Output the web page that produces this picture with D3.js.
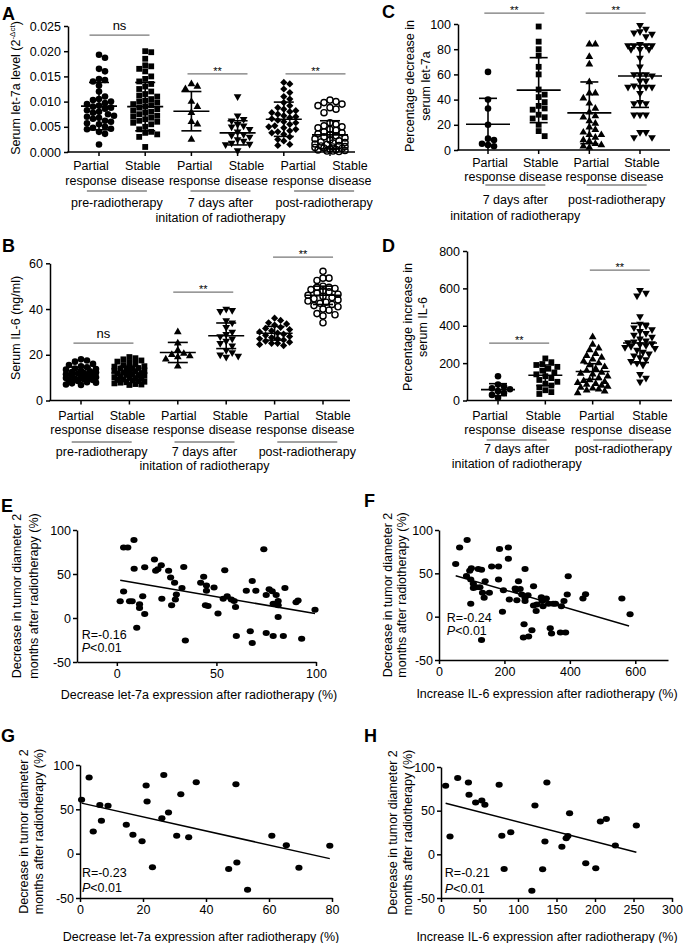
<!DOCTYPE html>
<html><head><meta charset="utf-8">
<script src="https://cdn.jsdelivr.net/npm/d3@7"></script>
<style>body{margin:0;background:#fff}svg{display:block}</style>
</head><body><svg id="chart"></svg>
<script>
// ---------------- DATA ----------------
const labTop6 = ["Partial","Stable","Partial","Stable","Partial","Stable"];
const labBot6 = ["response","disease","response","disease","response","disease"];
const labTop4 = ["Partial","Stable","Partial","Stable"];
const labBot4 = ["response","disease","response","disease"];
const groups6 = [{pair:[0,1],lines:["pre-radiotherapy"]},{pair:[2,3],lines:["7 days after","initation of radiotherapy"]},{pair:[4,5],lines:["post-radiotherapy"]}];
const groups4 = [{pair:[0,1],lines:["7 days after","initation of radiotherapy"]},{pair:[2,3],lines:["post-radiotherapy"]}];

// Panel A: serum let-7a level
const aPRpre = [0.0193,0.0187,0.0165,0.0160,0.0145,0.0143,0.0140,0.0132,0.0120,0.0110,0.0105,0.0103,0.0100,0.0097,0.0095,0.0092,0.0090,0.0088,0.0086,0.0083,0.0080,0.0078,0.0075,0.0072,0.0070,0.0068,0.0066,0.0062,0.0060,0.0057,0.0055,0.0050,0.0048,0.0046,0.0045,0.0040,0.0036,0.0015];
const aSDpre = [0.0200,0.0198,0.0185,0.0172,0.0170,0.0165,0.0160,0.0150,0.0145,0.0140,0.0135,0.0130,0.0125,0.0120,0.0115,0.0112,0.0110,0.0105,0.0102,0.0100,0.0098,0.0095,0.0093,0.0090,0.0088,0.0085,0.0082,0.0080,0.0078,0.0075,0.0072,0.0070,0.0068,0.0065,0.0062,0.0060,0.0058,0.0055,0.0050,0.0045,0.0040,0.0038,0.0035,0.0030,0.0010];
const aPR7 = [0.0135,0.0130,0.0125,0.0100,0.0090,0.0078,0.0060,0.0055,0.0025];
const aSD7 = [0.0110,0.0072,0.0065,0.0062,0.0055,0.0052,0.0050,0.0045,0.0040,0.0035,0.0033,0.0030,0.0025,0.0022,0.0018,0.0016,0.0015,0.0003];
const aPRpost = [0.0138,0.0135,0.0125,0.0118,0.0110,0.0105,0.0098,0.0092,0.0088,0.0085,0.0082,0.0080,0.0078,0.0075,0.0072,0.0070,0.0068,0.0066,0.0063,0.0060,0.0058,0.0055,0.0052,0.0050,0.0048,0.0045,0.0042,0.0040,0.0038,0.0035,0.0030,0.0025,0.0022,0.0015,0.0013];
const aSDpost = [0.0103,0.0100,0.0098,0.0095,0.0092,0.0088,0.0085,0.0078,0.0058,0.0055,0.0052,0.0050,0.0048,0.0045,0.0043,0.0040,0.0038,0.0036,0.0034,0.0032,0.0030,0.0028,0.0026,0.0024,0.0022,0.0020,0.0019,0.0018,0.0016,0.0015,0.0013,0.0012,0.0011,0.0010,0.0009,0.0008,0.0007,0.0006,0.0005,0.0004,0.0003,0.0002,0.0002,0.0001];
const aMean = [0.0091,0.0090,0.0081,0.0038,0.0065,0.0034];
const aSD = [0.0047,0.0048,0.0039,0.0024,0.0034,0.0028];
const aTicks = [0,0.005,0.010,0.015,0.020,0.025];
const aBrackets = [{pair:[0,1],v:0.0232,t:"ns"},{pair:[2,3],v:0.0155,t:"**"},{pair:[4,5],v:0.0155,t:"**"}];

// Panel B: serum IL-6
const bPRpre = [18,17.5,17,16,15.5,15,14.5,14,13.8,13.5,13,12.8,12.5,12.2,12,11.8,11.5,11.2,11,10.8,10.5,10.2,10,9.8,9.5,9.2,9,8.8,8.5,8,7.8,7.5,7,6.8];
const bSDpre = [19,18.5,18,17.5,17,16.5,16,15.5,15,14.8,14.5,14.2,14,13.8,13.5,13.2,13,12.8,12.5,12.2,12,11.8,11.5,11.2,11,10.8,10.5,10.2,10,9.8,9.5,9.2,9,8.8,8.5,8.2,8,7.8,7.5,7.2,7,6.8];
const bPR7 = [30,25,22,20.5,20,19.5,19,18,15];
const bSD7 = [40,39.5,39,35,34,32,30,29,28,27,26,25,24,22,21,20,19.5,19];
const bPRpost = [36,35,34,33.5,33,32,31.5,31,30.5,30,29.5,29,28.5,28,27.5,27,27,26.5,26,25.5,25,25,24.5,24];
const bSDpost = [56.5,53.5,53.5,52.5,50,49.5,49.5,49,48.5,48,47.5,47,46.5,46,45.5,45,44.5,44,43.5,43,42.5,42,41.5,41,40,39.5,38,37.5,37,34];
const bMean = [11.8,12,21,28.3,29.4,46];
const bSD = [2.8,3,4.4,5.6,3,4];
const bTicks = [0,20,40,60];
const bBrackets = [{pair:[0,1],v:25.1,t:"ns"},{pair:[2,3],v:47.4,t:"**"},{pair:[4,5],v:62.7,t:"**"}];

// Panel C: percentage decrease in serum let-7a
const cPR7 = [62,40,33,20,9,8,5,4,3];
const cSD7 = [98,86,80,75,66,60,48,44,42,38,35,33,32,28,26,25,20,15,11];
const cPRpost = [84,84,74,68,54,45,45,41,37,33,30,27,26,23,21,18,16,14,12,12,10,8,7,5,4,3,2];
const cSDpost = [99,96,94,93,92,90,84,83,83,83,83,80,80,80,73,66,60,60,60,59,55,55,51,50,50,50,50,45,38,37,37,28,28,28,14,10,10,14];
const cMean = [20.4,47.5,29.5,58.7];
const cSD = [20.6,25.8,24.5,24.9];
const cTicks = [0,20,40,60,80,100];
const cBrackets = [{pair:[0,1],v:108.7,t:"**"},{pair:[2,3],v:108.7,t:"**"}];

// Panel D: percentage increase in serum IL-6
const dPR7 = [130,85,75,65,60,50,40,30,15];
const dSD7 = [225,205,195,190,180,170,160,150,140,130,120,110,100,90,80,70,55,45,35];
const dPRpost = [340,300,280,270,250,240,230,220,210,200,190,180,170,160,150,145,140,130,120,110,105,100,95,90,85,80,75,70,65,60,55,50,40];
const dSDpost = [590,575,560,450,410,400,390,380,370,360,350,340,330,320,315,310,305,300,295,290,285,280,270,260,250,240,230,220,210,200,190,140,120,100];
const dMean = [58,135,155,308];
const dSD = [32,55,42,105];
const dTicks = [0,200,400,600,800];
const dBrackets = [{pair:[0,1],v:307,t:"**"},{pair:[2,3],v:698,t:"**"}];

// Scatter panels: [x, y] = [expression change (%), decrease in tumor diameter (%)]
const ePts = [[1.7,19],[3.4,30],[3.4,80],[5.5,80],[6.4,19],[7.7,19],[8.6,88.6],[8.7,56],[10,-11],[11.4,15.6],[11.4,11.4],[13,24.7],[14,57.8],[14,4.6],[18.9,66.5],[19.5,53.6],[20.6,55.5],[22.3,60],[22.6,22],[26,53.6],[27,46],[27.5,14.4],[29,40],[29.4,21],[29.9,26.6],[32.7,34],[33.6,58],[34.4,-25.5],[42.1,40],[43.6,46.8],[44.5,14.4],[45,37],[45,31],[45.8,13.7],[48.8,34.6],[50.8,5],[53.4,22],[54.2,54.4],[55.4,24.7],[57.5,21],[58.9,19.4],[59.6,12.5],[60,-20.5],[65,31],[67,-15],[68,42],[68,-28.5],[69.8,31],[73.8,78],[75,26],[75,-17],[76.5,32.7],[78,30.4],[78.5,16.3],[78.5,-20.5],[80,26],[81,19.4],[81,14.4],[81,1],[83.6,-20.5],[84.4,34],[90,18],[91,20],[92.8,-23.6],[99.5,9.5]];
const eFit = [[1.7,43],[99.5,5]];
const fPts = [[51,60.7],[63,79.8],[86,88.5],[84,47],[94,53],[99,56],[97,43],[97,15],[105,38],[105,33],[113,34],[120,55],[125,34],[130,54],[133,27.5],[130,-27],[138,21.8],[141,41],[154,27.5],[161,58],[182,58],[185,78],[182,43],[197,30.5],[194,5.7],[212,79.8],[212,66.8],[215,19.8],[233,32.4],[235,30.5],[238,19],[243,41],[248,32],[253,25.6],[260,-8.8],[258,-24],[263,55],[263,21.8],[263,18],[272,24.8],[274,-23],[284,-15.6],[289,35],[289,13],[297,6.5],[299,14],[313,22.5],[315,18],[318,12],[328,21],[335,15],[340,-13.4],[344,-19.5],[349,15],[356,15],[371,-18.3],[374,12],[382,18],[387,-18.3],[392,25.6],[395,46.6],[440,21],[448,26],[559,21],[584,2.7]];
const fFit = [[51,47.3],[581,-10.7]];
const gPts = [[0.5,60.7],[2.9,85.8],[4.2,25],[6.3,55],[6.8,37],[8.9,54],[14.7,32.6],[16.8,21.3],[19.7,13.9],[21,76.8],[21.3,58.8],[23,-15.4],[26,40],[26.6,88.8],[28.1,46.4],[30.7,20.2],[32,67],[34.5,18.4],[36.9,80.5],[47.2,-17.2],[49.5,78.3],[49.8,-10],[53.2,-40.8],[60.9,20.2],[65.5,9.4],[69.5,-16],[79.3,9]];
const gFit = [[0.5,57],[79.3,-5.6]];
const hPts = [[6,78.5],[11.7,20.3],[21.7,87.3],[35.6,82.3],[36.4,68.2],[45,59.4],[53,61.7],[57,56.7],[75.5,79.7],[79,21.4],[82,-16.9],[90.6,25.3],[118,-41.7],[122,55.9],[132,-17.2],[135,14.6],[137.5,82.3],[157,8.8],[162.6,18.4],[164.8,21],[167,47],[188,-10.3],[201,-16],[207,37.5],[214.7,40.6],[226.4,10],[253.7,33]];
const hFit = [[6,58.6],[253.7,2.3]];
const scatterYTicks = [-50,0,50,100];
const tumorLabel = ["Decrease in tumor diameter 2","months after radiotherapy (%)"];

// ---------------- DRAWING ----------------
const FONT = '"Liberation Sans", Arial, Helvetica, sans-serif';
const FS = 12.5;
const svg = d3.select("#chart").attr("width",685).attr("height",943);
svg.append("rect").attr("width",685).attr("height",943).attr("fill","#fff");

function txt(g,x,y,s,o={}){
  const t=g.append("text").attr("x",x).attr("y",y).attr("font-family",FONT)
    .attr("font-size",o.size||FS).attr("text-anchor",o.anchor||"middle").attr("fill","#000");
  if(o.weight) t.attr("font-weight",o.weight);
  if(s!==null) t.text(s);
  return t;
}
function styleAxis(sel){
  sel.attr("font-family",FONT).attr("font-size",FS);
  sel.select(".domain").attr("stroke","#000").attr("stroke-width",1.5);
  sel.selectAll(".tick line").attr("stroke","#000").attr("stroke-width",1.5);
  sel.selectAll(".tick text").attr("fill","#000");
}
function rotLabel(g,lines,xs,cy){
  lines.forEach((s,i)=>{
    g.append("text").attr("transform",`translate(${xs[i]},${cy}) rotate(-90)`)
      .attr("text-anchor","middle").attr("font-family",FONT).attr("font-size",FS).attr("fill","#000").text(s);
  });
}
const SYM = {
  circle:{t:d3.symbolCircle,s:34,r:0,fill:true},
  square:{t:d3.symbolSquare,s:34,r:0,fill:true},
  tri:{t:d3.symbolTriangle,s:26,r:0,fill:true},
  triDown:{t:d3.symbolTriangle,s:26,r:180,fill:true},
  diamond:{t:d3.symbolSquare,s:26,r:45,fill:true},
  ring:{t:d3.symbolCircle,s:30,r:0,fill:false}
};
function swarm(vals,cx,y,d,maxHalf){
  const placed=[]; const step=d/2;
  const nSteps=Math.floor(maxHalf/step);
  return vals.slice().sort((a,b)=>b-a).map(v=>{
    const py=y(v); let best=cx, bestScore=-1;
    for(let i=0;i<=2*nSteps;i++){
      const k=Math.ceil(i/2), sgn=i%2?1:-1;
      const px=cx+(i===0?0:sgn*k*step);
      let minD=Infinity;
      for(const p of placed){const dd=Math.hypot(p[0]-px,p[1]-py); if(dd<minD)minD=dd;}
      if(minD>=d){best=px;break;}
      if(minD>bestScore){bestScore=minD;best=px;}
    }
    placed.push([best,py]); return [best,py];
  });
}

function dotPanel(o){
  const g=svg.append("g");
  const keys=d3.range(o.series.length);
  const xD=d3.scalePoint(keys,o.dataRange);
  const xL=d3.scalePoint(keys,o.labRange);
  const y=d3.scaleLinear(o.yDomain,o.yRange);
  const base=o.yRange[0];
  const ax=g.append("g").attr("transform",`translate(${o.axisX},0)`)
    .call(d3.axisLeft(y).tickValues(o.yTicks).tickFormat(o.yFmt).tickSize(4).tickSizeOuter(0).tickPadding(3));
  styleAxis(ax);
  g.append("line").attr("x1",o.axisX-0.75).attr("x2",o.axisEnd).attr("y1",base).attr("y2",base).attr("stroke","#000").attr("stroke-width",1.5);
  g.selectAll(null).data(keys).join("line").attr("x1",k=>xD(k)).attr("x2",k=>xD(k)).attr("y1",base).attr("y2",base+4).attr("stroke","#000").attr("stroke-width",1.5);
  // points
  o.series.forEach((vals,i)=>{
    const S=SYM[o.syms[i]];
    const pts=swarm(vals,xD(i),y,6,17);
    const gen=d3.symbol(S.t,S.s);
    g.selectAll(null).data(pts).join("path").attr("d",gen())
      .attr("transform",p=>`translate(${p[0]},${p[1]}) rotate(${S.r})`)
      .attr("fill",S.fill?"#000":"none").attr("stroke",S.fill?"none":"#000").attr("stroke-width",1.4);
  });
  // mean +/- SD
  keys.forEach(i=>{
    const cx=xD(i), m=o.means[i], s=o.sds[i];
    const lo=Math.max(o.yDomain[0],m-s), hi=m+s;
    const L=(x1,y1,x2,y2)=>g.append("line").attr("x1",x1).attr("y1",y1).attr("x2",x2).attr("y2",y2).attr("stroke","#000").attr("stroke-width",1.6);
    L(cx-o.meanHW,y(m),cx+o.meanHW,y(m));
    L(cx,y(lo),cx,y(hi));
    L(cx-o.capHW,y(hi),cx+o.capHW,y(hi));
    if(m-s>o.yDomain[0]) L(cx-o.capHW,y(lo),cx+o.capHW,y(lo));
  });
  // category labels
  keys.forEach(i=>{
    txt(g,xL(i),o.labY[0],o.labTop[i]);
    txt(g,xL(i),o.labY[1],o.labBot[i]);
  });
  // groups
  o.groups.forEach(gr=>{
    const mid=(xL(gr.pair[0])+xL(gr.pair[1]))/2;
    g.append("line").attr("x1",mid-30).attr("x2",mid+30).attr("y1",o.groupLineY).attr("y2",o.groupLineY).attr("stroke","#444").attr("stroke-width",1);
    gr.lines.forEach((s,j)=>txt(g,mid,o.groupY[j],s));
  });
  // brackets
  o.brackets.forEach(b=>{
    const mid=((xL(b.pair[0])+xL(b.pair[1]))/2+(xD(b.pair[0])+xD(b.pair[1]))/2)/2;
    const yy=y(b.v);
    g.append("line").attr("x1",mid-30).attr("x2",mid+30).attr("y1",yy).attr("y2",yy).attr("stroke","#777").attr("stroke-width",1.2);
    if(b.t==="ns") txt(g,mid,yy-5,"ns",{size:13});
    else txt(g,mid,yy+1,"**",{size:11});
  });
  // y label
  if(o.yLabelFn) o.yLabelFn(g); else rotLabel(g,o.yLabel,o.yLabelX,o.yLabelCY);
  txt(g,o.letter[1],o.letter[2],o.letter[0],{size:18,weight:"bold",anchor:"start"});
}

function scatterPanel(o){
  const g=svg.append("g");
  const x=d3.scaleLinear(o.xDomain,o.xRange);
  const y=d3.scaleLinear(o.yDomain,o.yRange);
  const ay=g.append("g").attr("transform",`translate(${o.xRange[0]},0)`)
    .call(d3.axisLeft(y).tickValues(scatterYTicks).tickFormat(d=>String(d)).tickSize(4).tickSizeOuter(0).tickPadding(2));
  styleAxis(ay);
  const axx=g.append("g").attr("transform",`translate(0,${o.yRange[0]})`)
    .call(d3.axisBottom(x).tickValues(o.xTicks).tickFormat(d=>String(d)).tickSize(4).tickSizeOuter(0).tickPadding(3));
  styleAxis(axx);
  g.selectAll(null).data(o.pts).join("ellipse").attr("cx",d=>x(d[0])).attr("cy",d=>y(d[1]))
    .attr("rx",3.6).attr("ry",3.0).attr("fill","#000");
  g.append("path").datum(o.fit).attr("d",d3.line(d=>x(d[0]),d=>y(d[1]))).attr("stroke","#000").attr("stroke-width",1.5).attr("fill","none");
  txt(g,x(o.rPos[0]),y(o.rPos[1]),o.rText,{anchor:"start"});
  const p=txt(g,x(o.rPos[0]),y(o.pY),null,{anchor:"start"});
  p.append("tspan").attr("font-style","italic").text("P");
  p.append("tspan").text("<0.01");
  txt(g,o.titleX,o.titleY,o.title);
  rotLabel(g,tumorLabel,o.yLabelX,(o.yRange[0]+o.yRange[1])/2);
  txt(g,o.letter[1],o.letter[2],o.letter[0],{size:18,weight:"bold",anchor:"start"});
}

// Panel A
dotPanel({
  series:[aPRpre,aSDpre,aPR7,aSD7,aPRpost,aSDpost],means:aMean,sds:aSD,
  syms:["circle","square","tri","triDown","diamond","ring"],
  yDomain:[0,0.025],yRange:[152,26],yTicks:aTicks,yFmt:d3.format(".3f"),
  axisX:68,axisEnd:355,dataRange:[99,330],labRange:[91,350],
  labTop:labTop6,labBot:labBot6,labY:[170,185],groupLineY:191,groupY:[207,222],groups:groups6,
  brackets:aBrackets,meanHW:18,capHW:10,letter:["A",2,20],
  yLabelFn:g=>{
    const t=g.append("text").attr("transform","translate(20,88) rotate(-90)").attr("text-anchor","middle")
      .attr("font-family",FONT).attr("font-size",FS).attr("fill","#000");
    t.append("tspan").text("Serum let-7a level (2");
    t.append("tspan").attr("font-size",8).attr("dy",-5).text("-Δct");
    t.append("tspan").attr("dy",5).text(")");
  }
});
// Panel B
dotPanel({
  series:[bPRpre,bSDpre,bPR7,bSD7,bPRpost,bSDpost],means:bMean,sds:bSD,
  syms:["circle","square","tri","triDown","diamond","ring"],
  yDomain:[0,60],yRange:[400.5,263.3],yTicks:bTicks,yFmt:d=>String(d),
  axisX:50,axisEnd:350,dataRange:[81,323],labRange:[76,333],
  labTop:labTop6,labBot:labBot6,labY:[420,434],groupLineY:442,groupY:[456,470],groups:groups6,
  brackets:bBrackets,meanHW:18,capHW:10,letter:["B",2,252],
  yLabel:["Serum IL-6 (ng/ml)"],yLabelX:[20],yLabelCY:328
});
// Panel C
dotPanel({
  series:[cPR7,cSD7,cPRpost,cSDpost],means:cMean,sds:cSD,
  syms:["circle","square","tri","triDown"],
  yDomain:[0,100],yRange:[150,24],yTicks:cTicks,yFmt:d=>String(d),
  axisX:458,axisEnd:670,dataRange:[488,640],labRange:[490,642],
  labTop:labTop4,labBot:labBot4,labY:[167,181],groupLineY:185,groupY:[204,220],groups:groups4,
  brackets:cBrackets,meanHW:22,capHW:9,letter:["C",382,18],
  yLabel:["Percentage decrease in","serum let-7a"],yLabelX:[414,430],yLabelCY:86
});
// Panel D
dotPanel({
  series:[dPR7,dSD7,dPRpost,dSDpost],means:dMean,sds:dSD,
  syms:["circle","square","tri","triDown"],
  yDomain:[0,800],yRange:[400.5,251],yTicks:dTicks,yFmt:d=>String(d),
  axisX:467,axisEnd:672,dataRange:[498,640],labRange:[490,650],
  labTop:labTop4,labBot:labBot4,labY:[420,434],groupLineY:440,groupY:[453,468],groups:groups4,
  brackets:dBrackets,meanHW:17,capHW:9,letter:["D",382,252],
  yLabel:["Percentage increase in","serum IL-6"],yLabelX:[412,427],yLabelCY:327
});
// Panel E
scatterPanel({pts:ePts,fit:eFit,xDomain:[-20,100],xRange:[77,316],yDomain:[-50,100],yRange:[662,530],
  xTicks:[0,50,100],rText:"R=-0.16",rPos:[-17.6,-24],pY:-38.6,
  title:"Decrease let-7a expression after radiotherapy (%)",titleX:199,titleY:699,
  yLabelX:[21,38],letter:["E",1,512]});
// Panel F
scatterPanel({pts:fPts,fit:fFit,xDomain:[0,700],xRange:[439,668],yDomain:[-50,100],yRange:[660,530],
  xTicks:[0,200,400,600],rText:"R=-0.24",rPos:[24,-5.8],pY:-20.8,
  title:"Increase IL-6 expression after radiotherapy (%)",titleX:547,titleY:698,
  yLabelX:[392,406],letter:["F",364,507]});
// Panel G
scatterPanel({pts:gPts,fit:gFit,xDomain:[0,80],xRange:[80,332],yDomain:[-50,100],yRange:[898,765],
  xTicks:[0,20,40,60,80],rText:"R=-0.23",rPos:[0.6,-26],pY:-43,
  title:"Decrease let-7a expression after radiotherapy (%)",titleX:201,titleY:941,
  yLabelX:[28,43],letter:["G",1,742]});
// Panel H
scatterPanel({pts:hPts,fit:hFit,xDomain:[0,300],xRange:[441,672],yDomain:[-50,100],yRange:[898,767],
  xTicks:[0,50,100,150,200,250,300],rText:"R=-0.21",rPos:[5,-26.3],pY:-44.7,
  title:"Increase IL-6 expression after radiotherapy (%)",titleX:547,titleY:941,
  yLabelX:[397,412],letter:["H",364,742]});
</script></body></html>
